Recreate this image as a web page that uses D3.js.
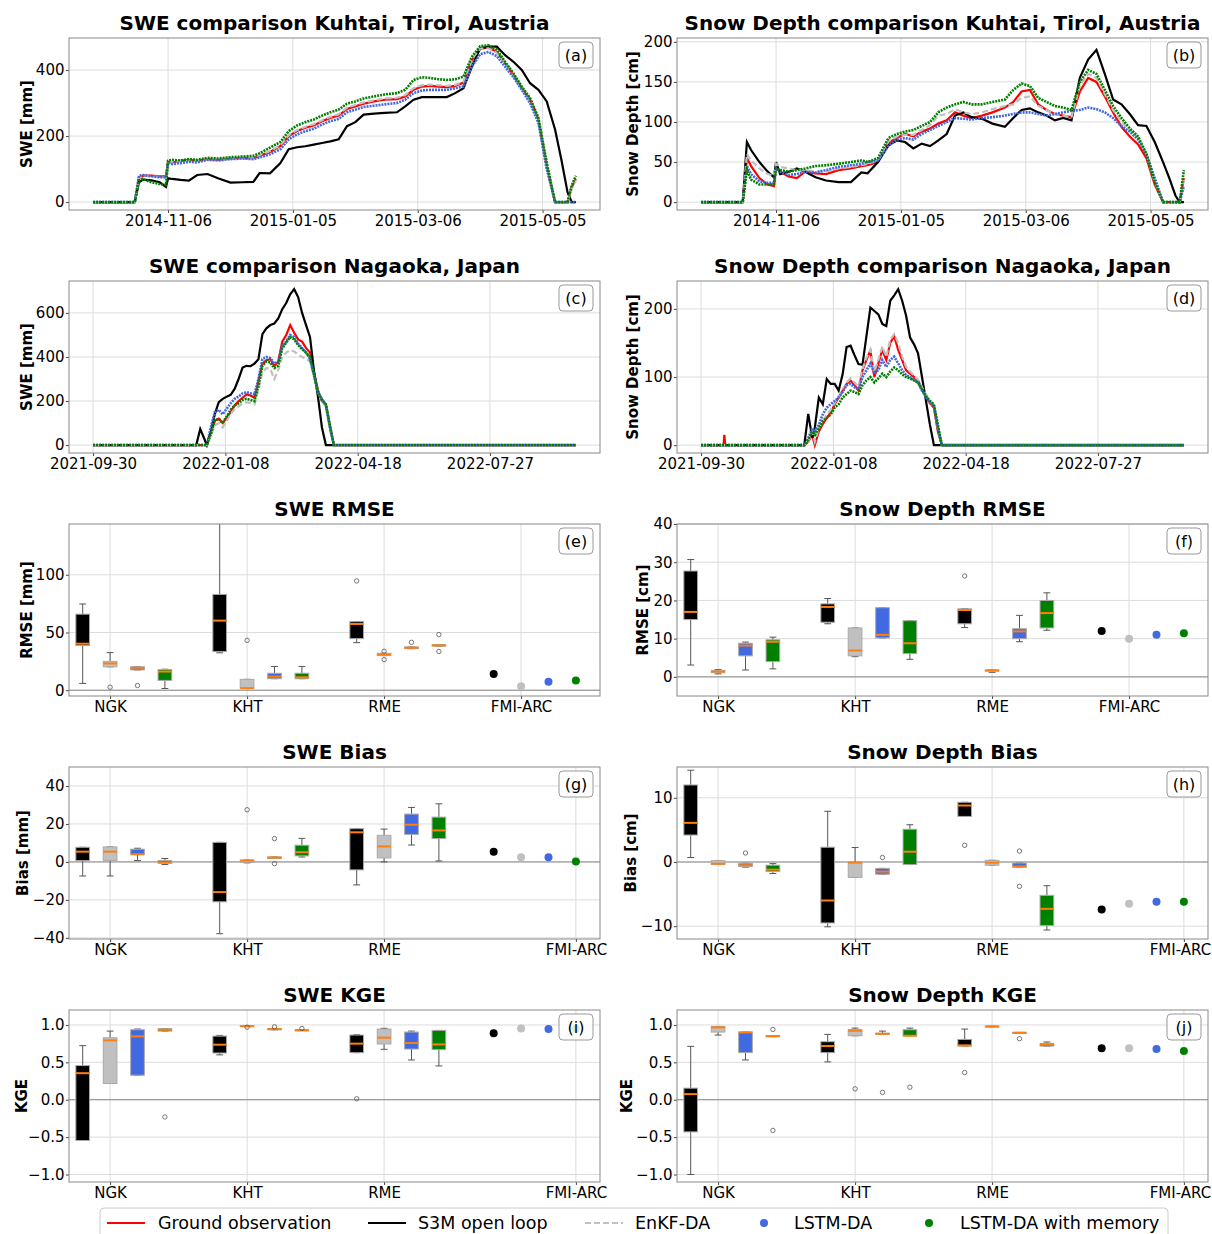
<!DOCTYPE html>
<html>
<head>
<meta charset="utf-8">
<script src="https://cdn.jsdelivr.net/npm/d3@7"></script>
<style>
body { margin: 0; background: #fff; }
svg text { font-family: "DejaVu Sans", sans-serif; }
</style>
</head>
<body>
<div id="chart"></div>
<script>
// ---- time series, Kuhtai (days after 2014-10-01) ----
const kuhtaiStart = "2014-10-01";
const kuhtaiDays = [0,20,22,24,28,32,35,36,38,42,46,50,55,60,66,72,77,80,85,90,94,98,102,106,110,114,118,122,126,130,135,140,146,150,154,158,162,166,170,174,178,182,186,190,194,198,202,206,210,214,218,222,225,228,230,232];
const kuhtaiSweS3M  = [0,0,60,68,66,60,46,72,70,67,65,82,85,72,59,60,61,88,87,118,160,166,169,174,179,184,190,230,242,265,268,270,272,290,310,318,318,318,318,330,345,410,466,471,471,445,425,400,360,340,305,220,130,30,0,0];
const kuhtaiSweObs  = [0,0,70,80,80,78,78,122,120,125,128,125,130,128,132,134,133,140,152,170,200,215,225,232,245,255,262,282,290,298,305,310,312,320,340,350,352,350,348,352,362,430,465,468,455,420,385,345,310,250,110,0,0,0,45,70];
const kuhtaiSweEnkf = [0,0,72,80,78,76,75,120,122,124,126,124,130,130,133,135,134,142,155,172,203,218,228,236,248,258,266,286,294,302,308,314,316,324,345,354,356,354,352,355,365,432,466,466,452,418,382,342,305,245,105,0,0,0,40,65];
const kuhtaiSweLstm = [0,0,80,82,78,75,75,120,115,118,122,120,128,126,130,132,130,135,145,160,190,205,215,222,235,245,252,272,280,288,292,296,300,310,330,338,340,340,340,345,350,410,448,455,442,410,378,340,300,240,100,0,0,0,0,0];
const kuhtaiSweMem  = [0,0,65,70,60,55,52,125,128,126,130,128,134,132,136,138,140,148,165,182,215,232,242,250,262,272,280,298,305,314,320,326,330,340,370,378,376,372,370,372,380,440,472,475,462,425,390,350,315,255,120,0,0,0,50,80];
const kuhtaiHsS3M  = [0,0,75,65,50,38,31,50,35,38,42,38,31,27,25,25,37,36,50,71,77,75,67,73,70,77,85,108,112,106,104,98,94,105,115,117,112,108,102,105,102,155,178,190,160,128,122,110,96,95,75,50,30,8,0,0];
const kuhtaiHsObs  = [0,0,55,45,30,22,20,45,38,32,30,38,36,35,40,42,45,46,50,74,80,85,82,88,92,98,102,112,108,105,108,112,118,125,138,140,122,115,110,108,106,138,155,150,132,112,94,82,72,55,22,0,0,0,0,30];
const kuhtaiHsEnkf = [0,0,60,52,42,35,33,48,44,42,40,40,38,38,42,44,46,48,52,76,82,84,84,90,96,108,110,116,112,110,112,116,120,122,130,132,120,115,110,108,106,145,160,155,135,115,100,90,80,60,25,0,0,0,0,28];
const kuhtaiHsLstm = [0,0,45,35,26,24,24,42,38,34,35,38,37,40,44,46,48,50,52,70,78,80,78,85,90,95,100,105,104,103,105,106,108,110,112,112,110,108,110,112,114,115,118,116,112,105,95,88,78,60,30,0,0,0,0,20];
const kuhtaiHsMem  = [0,0,40,28,22,22,22,42,40,38,40,42,45,46,48,50,52,50,55,80,85,88,90,95,100,112,118,122,125,122,122,125,128,140,148,145,130,125,120,118,115,150,165,160,140,120,105,92,82,60,25,0,0,0,0,40];
const kuhtaiTicks = ["2014-11-06","2015-01-05","2015-03-06","2015-05-05"];

// ---- time series, Nagaoka (days after 2021-09-30) ----
const nagaokaStart = "2021-09-30";
const nagaokaDays = [0,17,17.6,18.2,75,78,81,84,86,89,92,95,98,101,104,107,110,113,116,119,122,125,128,131,134,137,140,143,146,149,152,155,158,161,164,167,170,173,176,179,182,185,365];
const nagaokaSweS3M  = [0,0,0,0,0,0,73,30,0,60,140,195,210,220,228,255,300,352,360,358,370,390,504,530,545,552,575,617,645,685,708,672,600,545,490,337,220,80,0,0,0,0,0];
const nagaokaSweObs  = [0,0,0,0,0,0,0,0,0,60,110,120,100,125,150,180,200,215,230,225,215,290,370,385,390,360,380,470,500,545,510,480,470,440,420,330,250,200,185,90,0,0,0];
const nagaokaSweEnkf = [0,0,0,0,0,0,0,0,0,40,90,100,80,110,140,165,175,190,195,190,185,250,330,350,345,300,340,400,420,430,425,410,400,390,380,310,240,200,175,80,0,0,0];
const nagaokaSweLstm = [0,0,0,0,0,0,0,0,0,80,150,160,140,165,190,210,220,235,240,235,230,300,390,400,395,370,380,450,470,500,490,460,440,420,390,320,240,210,180,80,0,0,0];
const nagaokaSweMem  = [0,0,0,0,0,0,0,0,0,50,110,120,100,130,160,180,190,205,210,205,200,270,360,380,375,350,360,440,465,490,480,455,435,420,400,320,240,205,185,90,0,0,0];
const nagaokaHsS3M  = [0,0,0,0,0,0,46,11,26,70,60,97,90,90,80,104,144,146,132,119,118,160,202,197,192,178,175,212,220,229,212,190,158,148,135,100,65,30,0,0,0,0,0];
const nagaokaHsObs  = [0,0,15,0,0,0,5,15,0,20,31,40,48,60,70,80,90,95,88,80,110,125,139,100,120,140,125,150,160,140,125,110,105,100,95,82,72,62,55,20,0,0,0];
const nagaokaHsEnkf = [0,0,0,0,0,0,5,20,5,25,35,45,52,62,72,82,92,98,92,85,112,128,140,108,125,145,130,155,163,150,130,115,108,102,96,85,75,65,58,25,0,0,0];
const nagaokaHsLstm = [0,0,0,0,0,0,10,25,20,30,45,55,60,65,70,78,88,90,85,82,100,110,120,105,110,125,115,125,130,120,110,103,100,96,92,80,70,62,58,25,0,0,0];
const nagaokaHsMem  = [0,0,0,0,0,0,8,20,15,25,35,40,45,55,60,70,75,80,78,75,88,95,100,92,98,105,100,108,114,110,104,100,98,95,92,82,72,65,60,30,0,0,0];
const nagaokaTicks = ["2021-09-30","2022-01-08","2022-04-18","2022-07-27"];

// ---- box plot statistics: [whisker low, q1, median, q3, whisker high, outliers] ----
const siteNames = ["NGK", "KHT", "RME"];
const modelNames = ["S3M open loop", "EnKF-DA", "LSTM-DA", "LSTM-DA with memory"];
const sweRmse = [
  [[5.9,38.8,40.3,65.9,74.7,[]], [20.3,20.3,23.2,25,32.6,[2.6]], [17.6,17.6,19.4,20.3,20.3,[4.1]], [1.5,8.5,16.2,17.9,18.2,[]]],
  [[32.4,33.5,60.3,83,170,[]], [1.8,1.8,1.8,9.4,9.4,[43.2]], [10,10,11.8,14.7,20.6,[]], [10,10,11.2,14.7,20.6,[]]],
  [[41.2,44.7,57.4,59.4,59.4,[94.7]], [30,30,30.9,32,32,[33.8,26.5]], [36,36,36.8,37.5,37.5,[41.5]], [38.3,38.3,38.8,39.4,39.4,[48.2,33.5]]]
];
const sweRmseFmi = [14.1, 3.5, 7.4, 8.5];
const hsRmse = [
  [[3.1,15,17,27.7,30.7,[]], [0.8,1.1,1.4,1.7,1.9,[]], [1.8,5.5,8.2,8.8,9.1,[]], [2.1,4,9.2,9.7,10.4,[]]],
  [[13.9,14.3,18.3,19.1,20.5,[]], [5.3,5.5,6.9,12.8,12.8,[]], [10.2,10.2,11,18.1,18.1,[]], [4.6,6.1,8.8,14.7,14.7,[]]],
  [[12.9,13.9,17.5,17.8,17.8,[26.4]], [1.2,1.5,1.7,1.8,1.8,[]], [9.2,10,11.9,12.6,16.1,[]], [12.2,12.8,16.7,20,22,[]]]
];
const hsRmseFmi = [12, 10, 11, 11.4];
const sweBias = [
  [[-7.4,0.7,5.4,7.7,7.7,[]], [-7.4,0.7,5.4,7.9,7.9,[]], [0.7,3.9,4,6.7,7.2,[]], [-1.4,-0.7,-0.2,0.7,1.8,[]]],
  [[-37.8,-21,-15.9,10.3,10.3,[]], [-0.5,-0.2,0.7,1,1,[27.5]], [1.8,1.8,2.3,2.6,2.6,[12.3,-0.9]], [2.6,3.2,5.1,8.8,12.4,[]]],
  [[-12.1,-4.2,15.6,17.5,17.5,[]], [0,2.1,8.2,14,17.3,[]], [8.9,14.5,19.6,25.2,28.7,[]], [0.5,12.3,16.6,23.6,30.6,[]]]
];
const sweBiasFmi = [5.4, 2.5, 2.5, 0.2];
const hsBias = [
  [[0.7,4.2,6.1,12,14.3,[]], [-0.4,-0.4,-0.26,0.2,0.2,[]], [-0.8,-0.7,-0.5,-0.2,-0.2,[1.4]], [-1.8,-1.5,-1.2,-0.5,-0.26,[]]],
  [[-10.1,-9.5,-6,2.3,7.9,[]], [-2.4,-2.4,-0.1,-0.05,2.25,[]], [-1.9,-1.9,-1.5,-1,-1,[0.7]], [-0.4,-0.4,1.6,5.1,5.8,[]]],
  [[7.1,7.1,8.8,9.3,9.3,[2.6]], [-0.5,-0.5,-0.1,0.26,0.26,[]], [-0.8,-0.8,-0.7,-0.16,-0.16,[1.7,-3.8]], [-10.6,-9.9,-7.3,-5.2,-3.7,[]]]
];
const hsBiasFmi = [-7.4, -6.5, -6.2, -6.2];
const sweKge = [
  [[-0.545,-0.545,0.355,0.457,0.723,[]], [0.217,0.217,0.794,0.829,0.918,[]], [0.328,0.328,0.847,0.936,0.945,[]], [0.918,0.918,0.936,0.949,0.949,[-0.23]]],
  [[0.6,0.625,0.736,0.851,0.86,[]], [0.98,0.98,0.984,0.99,0.99,[0.97]], [0.935,0.935,0.945,0.95,0.95,[0.975]], [0.928,0.928,0.93,0.934,0.934,[0.953]]],
  [[0.63,0.63,0.75,0.865,0.87,[0.013]], [0.674,0.745,0.83,0.945,0.955,[]], [0.532,0.678,0.758,0.905,0.918,[]], [0.452,0.67,0.74,0.927,0.927,[]]]
];
const sweKgeFmi = [0.89, 0.953, 0.945, 0.95];
const hsKge = [
  [[-1.0,-0.43,0.075,0.155,0.714,[]], [0.865,0.905,0.967,0.98,0.98,[]], [0.532,0.63,0.9,0.905,0.905,[]], [0.845,0.845,0.851,0.855,0.855,[0.94,-0.41]]],
  [[0.506,0.63,0.718,0.776,0.874,[]], [0.856,0.856,0.922,0.94,0.958,[0.146]], [0.875,0.875,0.882,0.89,0.918,[0.098]], [0.856,0.856,0.856,0.936,0.958,[0.168]]],
  [[0.718,0.718,0.727,0.807,0.945,[0.364]], [0.975,0.975,0.98,0.985,0.985,[]], [0.89,0.89,0.896,0.9,0.9,[0.816]], [0.718,0.718,0.736,0.754,0.772,[]]]
];
const hsKgeFmi = [0.69, 0.69, 0.678, 0.652];

// ---- layout ----
const W = 1212, H = 1234;
const colX = [69, 677];
const rowY = [38, 281, 524, 767, 1010];
const pw = 531, ph = 172;
const modelColors = ["black", "#c0c0c0", "royalblue", "green"];
const gridColor = "#dcdcdc";
const frameColor = "#888";
const parseDate = d3.timeParse("%Y-%m-%d");

const svg = d3.select("#chart").append("svg")
    .attr("width", W)
    .attr("height", H)
    .style("display", "block");

let clipCount = 0;

function basePanel(col, row, title, ylabel, labelOffset) {
    const g = svg.append("g")
        .attr("transform", `translate(${colX[col]},${rowY[row]})`);

    g.append("text")
        .attr("x", pw / 2)
        .attr("y", -8)
        .attr("text-anchor", "middle")
        .style("font-size", "20px")
        .style("font-weight", "bold")
        .text(title);

    g.append("text")
        .attr("transform", `translate(${-labelOffset},${ph / 2}) rotate(-90)`)
        .attr("text-anchor", "middle")
        .attr("dy", "0.35em")
        .style("font-size", "15px")
        .style("font-weight", "bold")
        .text(ylabel);

    const id = "clip" + (clipCount++);
    g.append("clipPath").attr("id", id)
        .append("rect").attr("width", pw).attr("height", ph);
    return { g, id };
}

function axesAndGrid(g, x, y, xVals, xFmt, yVals, yFmt) {
    g.append("g").selectAll("line").data(xVals).join("line")
        .attr("x1", d => x(d)).attr("x2", d => x(d))
        .attr("y1", 0).attr("y2", ph)
        .attr("stroke", gridColor);
    g.append("g").selectAll("line").data(yVals).join("line")
        .attr("x1", 0).attr("x2", pw)
        .attr("y1", d => y(d)).attr("y2", d => y(d))
        .attr("stroke", gridColor);

    const xa = g.append("g")
        .attr("class", "xaxis")
        .attr("transform", `translate(0,${ph})`)
        .call(d3.axisBottom(x).tickValues(xVals).tickFormat(xFmt).tickSize(3).tickPadding(2));
    const ya = g.append("g")
        .call(d3.axisLeft(y).tickValues(yVals).tickFormat(yFmt).tickSize(3).tickPadding(1.5));
    [xa, ya].forEach(a => {
        a.select(".domain").remove();
        a.selectAll("line").attr("stroke", "#444");
        a.selectAll("text")
            .style("font-size", "15px")
            .style("font-family", "DejaVu Sans")
            .attr("fill", "black");
    });
    return xa;
}

function finishPanel(g, tag) {
    g.append("rect")
        .attr("width", pw).attr("height", ph)
        .attr("fill", "none").attr("stroke", frameColor);
    const bx = pw - 41, by = 4;
    g.append("rect")
        .attr("x", bx).attr("y", by).attr("width", 34).attr("height", 26).attr("rx", 4)
        .attr("fill", "white").attr("fill-opacity", 0.85)
        .attr("stroke", "#999");
    g.append("text")
        .attr("x", bx + 17).attr("y", by + 13)
        .attr("dy", "0.35em")
        .attr("text-anchor", "middle")
        .style("font-size", "16px")
        .text(tag);
}

function tsPanel(col, row, cfg) {
    const { g, id } = basePanel(col, row, cfg.title, cfg.ylabel, cfg.labelOffset);
    const start = parseDate(cfg.start);
    const dates = cfg.days.map(d => new Date(start.getTime() + d * 864e5));
    const x = d3.scaleTime()
        .domain([new Date(start.getTime() - cfg.pad * 864e5),
                 new Date(start.getTime() + (cfg.days[cfg.days.length - 1] + cfg.pad) * 864e5)])
        .range([0, pw]);
    const y = d3.scaleLinear().domain(cfg.yDomain).range([ph, 0]);

    axesAndGrid(g, x, y, cfg.ticks.map(parseDate), d3.timeFormat("%Y-%m-%d"), cfg.yTicks, d3.format("d"));

    const line = d3.line().x((d, i) => x(dates[i])).y(d => y(d));
    const plot = g.append("g").attr("clip-path", `url(#${id})`);
    const series = [
        { v: cfg.obs, c: "red", w: 2.2, dash: null },
        { v: cfg.s3m, c: "black", w: 2.2, dash: null },
        { v: cfg.enkf, c: "#c0c0c0", w: 2.2, dash: "6,3" },
        { v: cfg.lstm, c: "royalblue", w: 2.6, dash: "2,1" },
        { v: cfg.mem, c: "green", w: 2.6, dash: "2,1" }
    ];
    series.forEach(s => {
        plot.append("path")
            .datum(s.v)
            .attr("d", line)
            .attr("fill", "none")
            .attr("stroke", s.c)
            .attr("stroke-width", s.w)
            .attr("stroke-dasharray", s.dash);
    });
    finishPanel(g, cfg.tag);
}

function boxPanel(col, row, cfg) {
    const { g, id } = basePanel(col, row, cfg.title, cfg.ylabel, cfg.labelOffset);
    const x = d3.scaleLinear().domain([-0.5, 18.88]).range([0, pw]);
    const y = d3.scaleLinear().domain(cfg.yDomain).range([ph, 0]);
    const tickPos = [1, 6, 11, cfg.fmiTick];
    const labels = siteNames.concat(["FMI-ARC"]);

    const xa = axesAndGrid(g, x, y, tickPos, (d, i) => labels[i], cfg.yTicks, cfg.yFmt);
    // last label sits on the figure edge in the right column
    if (cfg.edgeShift) {
        xa.selectAll(".tick text").filter((d, i) => i === 3).attr("dx", -cfg.edgeShift);
    }

    g.append("line")
        .attr("x1", 0).attr("x2", pw)
        .attr("y1", y(0)).attr("y2", y(0))
        .attr("stroke", "#888");

    const plot = g.append("g").attr("clip-path", `url(#${id})`);
    const bw = x(0.5) - x(0);
    cfg.stats.forEach((site, si) => {
        site.forEach((s, mi) => {
            const cx = x(5 * si + mi);
            const [lo, q1, med, q3, hi, out] = s;
            const b = plot.append("g");
            b.append("line").attr("x1", cx).attr("x2", cx).attr("y1", y(lo)).attr("y2", y(q1))
                .attr("stroke", "#555");
            b.append("line").attr("x1", cx).attr("x2", cx).attr("y1", y(q3)).attr("y2", y(hi))
                .attr("stroke", "#555");
            [lo, hi].forEach(v => {
                b.append("line").attr("x1", cx - bw / 4).attr("x2", cx + bw / 4)
                    .attr("y1", y(v)).attr("y2", y(v)).attr("stroke", "#555");
            });
            b.append("rect")
                .attr("x", cx - bw / 2).attr("width", bw)
                .attr("y", y(q3)).attr("height", Math.max(1, y(q1) - y(q3)))
                .attr("fill", modelColors[mi])
                .attr("stroke", "#aaa");
            b.append("line").attr("x1", cx - bw / 2).attr("x2", cx + bw / 2)
                .attr("y1", y(med)).attr("y2", y(med))
                .attr("stroke", "#ff7f0e").attr("stroke-width", 2);
            out.forEach(v => {
                b.append("circle").attr("cx", cx).attr("cy", y(v)).attr("r", 2.2)
                    .attr("fill", "none").attr("stroke", "#555").attr("stroke-width", 0.8);
            });
        });
    });
    cfg.fmi.forEach((v, mi) => {
        plot.append("circle")
            .attr("cx", x(15 + mi)).attr("cy", y(v)).attr("r", 4)
            .attr("fill", modelColors[mi]);
    });
    finishPanel(g, cfg.tag);
}

// ---- time series panels ----
tsPanel(0, 0, {
    title: "SWE comparison Kuhtai, Tirol, Austria", ylabel: "SWE [mm]", labelOffset: 42, tag: "(a)",
    start: kuhtaiStart, days: kuhtaiDays, pad: 11.6, ticks: kuhtaiTicks,
    yDomain: [-24, 497], yTicks: [0, 200, 400],
    obs: kuhtaiSweObs, s3m: kuhtaiSweS3M, enkf: kuhtaiSweEnkf, lstm: kuhtaiSweLstm, mem: kuhtaiSweMem
});
tsPanel(1, 0, {
    title: "Snow Depth comparison Kuhtai, Tirol, Austria", ylabel: "Snow Depth [cm]", labelOffset: 44, tag: "(b)",
    start: kuhtaiStart, days: kuhtaiDays, pad: 11.6, ticks: kuhtaiTicks,
    yDomain: [-9.8, 204.8], yTicks: [0, 50, 100, 150, 200],
    obs: kuhtaiHsObs, s3m: kuhtaiHsS3M, enkf: kuhtaiHsEnkf, lstm: kuhtaiHsLstm, mem: kuhtaiHsMem
});
tsPanel(0, 1, {
    title: "SWE comparison Nagaoka, Japan", ylabel: "SWE [mm]", labelOffset: 42, tag: "(c)",
    start: nagaokaStart, days: nagaokaDays, pad: 18.2, ticks: nagaokaTicks,
    yDomain: [-36, 745], yTicks: [0, 200, 400, 600],
    obs: nagaokaSweObs, s3m: nagaokaSweS3M, enkf: nagaokaSweEnkf, lstm: nagaokaSweLstm, mem: nagaokaSweMem
});
tsPanel(1, 1, {
    title: "Snow Depth comparison Nagaoka, Japan", ylabel: "Snow Depth [cm]", labelOffset: 44, tag: "(d)",
    start: nagaokaStart, days: nagaokaDays, pad: 18.2, ticks: nagaokaTicks,
    yDomain: [-11.5, 241], yTicks: [0, 100, 200],
    obs: nagaokaHsObs, s3m: nagaokaHsS3M, enkf: nagaokaHsEnkf, lstm: nagaokaHsLstm, mem: nagaokaHsMem
});

// ---- box plot panels ----
const fmtInt = d3.format("d");
const fmtOne = d3.format(".1f");
boxPanel(0, 2, { title: "SWE RMSE", ylabel: "RMSE [mm]", labelOffset: 42, tag: "(e)",
    yDomain: [-5, 144], yTicks: [0, 50, 100], yFmt: fmtInt, fmiTick: 16, stats: sweRmse, fmi: sweRmseFmi });
boxPanel(1, 2, { title: "Snow Depth RMSE", ylabel: "RMSE [cm]", labelOffset: 34, tag: "(f)",
    yDomain: [-5, 40], yTicks: [0, 10, 20, 30, 40], yFmt: fmtInt, fmiTick: 16, stats: hsRmse, fmi: hsRmseFmi });
boxPanel(0, 3, { title: "SWE Bias", ylabel: "Bias [mm]", labelOffset: 46, tag: "(g)",
    yDomain: [-40.6, 50], yTicks: [-40, -20, 0, 20, 40], yFmt: fmtInt, fmiTick: 18, stats: sweBias, fmi: sweBiasFmi });
boxPanel(1, 3, { title: "Snow Depth Bias", ylabel: "Bias [cm]", labelOffset: 46, tag: "(h)", edgeShift: 4,
    yDomain: [-12, 14.8], yTicks: [-10, 0, 10], yFmt: fmtInt, fmiTick: 18, stats: hsBias, fmi: hsBiasFmi });
boxPanel(0, 4, { title: "SWE KGE", ylabel: "KGE", labelOffset: 47, tag: "(i)",
    yDomain: [-1.1, 1.2], yTicks: [-1, -0.5, 0, 0.5, 1], yFmt: fmtOne, fmiTick: 18, stats: sweKge, fmi: sweKgeFmi });
boxPanel(1, 4, { title: "Snow Depth KGE", ylabel: "KGE", labelOffset: 50, tag: "(j)", edgeShift: 4,
    yDomain: [-1.1, 1.2], yTicks: [-1, -0.5, 0, 0.5, 1], yFmt: fmtOne, fmiTick: 18, stats: hsKge, fmi: hsKgeFmi });

// ---- legend ----
const legend = svg.append("g");
legend.append("rect")
    .attr("x", 100).attr("y", 1208).attr("width", 1068).attr("height", 40).attr("rx", 4)
    .attr("fill", "white").attr("stroke", "#ccc");
const legendItems = [
    { name: "Ground observation", kind: "line", c: "red", hx: 107, tx: 158 },
    { name: "S3M open loop", kind: "line", c: "black", hx: 368, tx: 418 },
    { name: "EnKF-DA", kind: "dash", c: "#c0c0c0", hx: 585, tx: 635 },
    { name: "LSTM-DA", kind: "dot", c: "royalblue", hx: 764, tx: 794 },
    { name: "LSTM-DA with memory", kind: "dot", c: "green", hx: 929, tx: 960 }
];
legendItems.forEach(it => {
    const ly = 1223;
    if (it.kind === "dot") {
        legend.append("circle").attr("cx", it.hx).attr("cy", ly).attr("r", 4).attr("fill", it.c);
    } else {
        legend.append("line")
            .attr("x1", it.hx).attr("x2", it.hx + 38).attr("y1", ly).attr("y2", ly)
            .attr("stroke", it.c).attr("stroke-width", 2.2)
            .attr("stroke-dasharray", it.kind === "dash" ? "6,3" : null);
    }
    legend.append("text")
        .attr("x", it.tx).attr("y", ly).attr("dy", "0.35em")
        .style("font-size", "17.5px")
        .text(it.name);
});
</script>
</body>
</html>
